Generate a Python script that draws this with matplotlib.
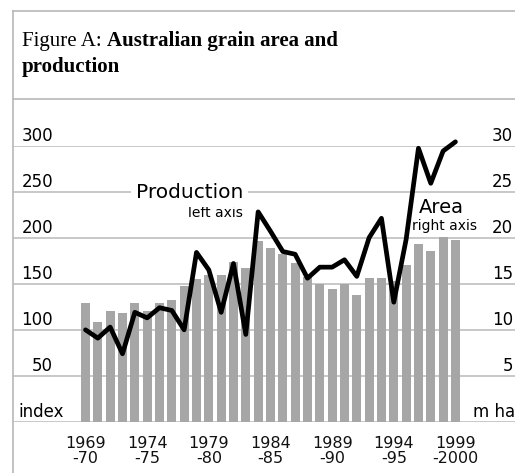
import matplotlib
matplotlib.use('Agg')
import matplotlib.pyplot as plt
import matplotlib.transforms as mtransforms
from matplotlib.lines import Line2D

# datos: superficie (m ha, eje derecho) y produccion (indice, eje izquierdo)
seasons = list(range(31))  # 1969-70 ... 1999-2000
area = [12.9, 10.9, 12.0, 11.8, 12.9, 12.0, 12.9, 13.2, 14.8, 15.5,
        16.0, 16.0, 17.4, 16.7, 19.6, 18.9, 18.2, 17.3, 15.7, 15.0,
        14.4, 15.0, 13.8, 15.6, 15.6, 15.3, 17.0, 19.3, 18.6, 20.1, 19.7]
production = [100, 91, 103, 74, 119, 113, 124, 121, 100, 184,
              165, 119, 172, 95, 228, 207, 185, 182, 156, 168,
              168, 176, 158, 200, 221, 130, 198, 297, 259, 294, 304]
xtick_pos = [0, 5, 10, 15, 20, 25, 30]
xtick_labels = ['1969\n-70', '1974\n-75', '1979\n-80', '1984\n-85',
                '1989\n-90', '1994\n-95', '1999\n-2000']
left_ticks = [50, 100, 150, 200, 250, 300]
right_ticks = [5, 10, 15, 20, 25, 30]

W, H = 515, 473
fig = plt.figure(figsize=(W / 100, H / 100), dpi=100)
sans = 'DejaVu Sans'
serif = 'Liberation Serif'
grid_c = '#c8c8c8'
frame_c = '#b8b8b8'

# marco gris de la figura
fig.add_artist(Line2D([13 / W, 13 / W], [0, 1 - 11.5 / H], color=frame_c, lw=1.2))
fig.add_artist(Line2D([13 / W, 1], [1 - 11.5 / H, 1 - 11.5 / H], color=frame_c, lw=1.2))
fig.add_artist(Line2D([13 / W, 1], [1 - 99 / H, 1 - 99 / H], color=frame_c, lw=1.2))

# titulo: parte normal + parte en negrita
t1 = fig.text(22 / W, 1 - 46 / H, 'Figure A:', family=serif, fontsize=15, va='baseline')
fig.canvas.draw()
bb = t1.get_window_extent(fig.canvas.get_renderer())
fig.text((bb.x1 + 5) / W, 1 - 46 / H, 'Australian grain area and', family=serif,
         fontsize=15, fontweight='bold', va='baseline')
fig.text(22 / W, 1 - 72 / H, 'production', family=serif, fontsize=15,
         fontweight='bold', va='baseline')

ax = fig.add_axes([13 / W, (H - 422) / H, 502 / W, 276.5 / H])
ax.set_xlim(-5.88, 34.83)
ax.set_ylim(0, 30)
for v in [0] + right_ticks:
    ax.axhline(v, color=grid_c, lw=1.4, zorder=1)
ax.bar(seasons, area, width=0.73, color='#a6a6a6', zorder=2)
ax.set_yticks([])
ax.set_xticks(xtick_pos)
ax.set_xticklabels(xtick_labels, fontsize=11.5, family=sans, linespacing=1.0)
ax.tick_params(axis='x', length=0, pad=10, colors='#111111')
for s in ax.spines.values():
    s.set_visible(False)

ax2 = ax.twinx()
ax2.set_ylim(0, 300)
ax2.plot(seasons, production, color='k', lw=3.4, solid_capstyle='round',
         clip_on=False, zorder=3)
ax2.set_yticks([])
for s in ax2.spines.values():
    s.set_visible(False)

# etiquetas de los ejes sobre las lineas de la grilla
tl = mtransforms.offset_copy(mtransforms.blended_transform_factory(ax2.transAxes, ax2.transData),
                             fig=fig, y=5, units='dots')
tr = mtransforms.offset_copy(mtransforms.blended_transform_factory(ax.transAxes, ax.transData),
                             fig=fig, y=5, units='dots')
for v in left_ticks:
    ax2.text(0.0797, v, str(v), transform=tl, ha='right', va='baseline', fontsize=12, family=sans)
for v in right_ticks:
    ax.text(0.996, v, str(v), transform=tr, ha='right', va='baseline', fontsize=12, family=sans)
ax2.text(0.01, 0, 'index', transform=tl, ha='left', va='baseline', fontsize=12, family=sans)
ax.text(1.0, 0, 'm ha', transform=tr, ha='right', va='baseline', fontsize=12, family=sans)

# anotaciones de las series
ax2.text(12.77, 242.7, 'Production', ha='right', va='baseline', fontsize=14.5, family=sans,
         bbox=dict(boxstyle='square,pad=0.25', fc='white', ec='none'), zorder=4)
ax2.text(12.77, 222, 'left axis', ha='right', va='baseline', fontsize=10, family=sans)
ax2.text(28.82, 226.5, 'Area', ha='center', va='baseline', fontsize=14, family=sans)
ax2.text(29.15, 208, 'right axis', ha='center', va='baseline', fontsize=10, family=sans)

fig.savefig('out.png', dpi=100)
